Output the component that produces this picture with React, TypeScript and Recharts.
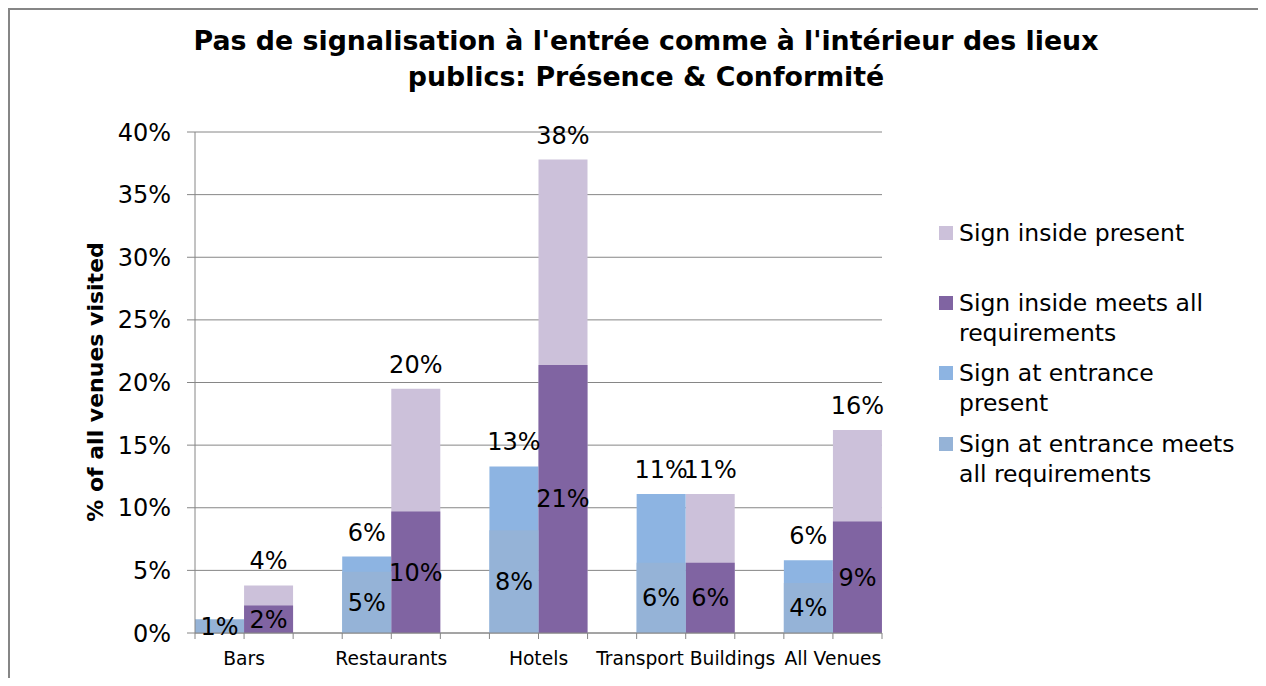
import React from "react"
import { BarChart, Bar, XAxis, YAxis, CartesianGrid, LabelList, Legend } from "recharts"

const categories = ["Bars", "Restaurants", "Hotels", "Transport Buildings", "All Venues"]
const insidePresent = [3.8, 19.5, 37.8, 11.1, 16.2]
const insideMeets = [2.2, 9.7, 21.4, 5.6, 8.9]
const entrancePresent = [null, 6.1, 13.3, 11.1, 5.8]
const entranceMeets = [1.1, 4.9, 8.2, 5.6, 4.0]
const yTicks = [0, 5, 10, 15, 20, 25, 30, 35, 40]

const legendItems = [
  { lines: ["Sign inside present"], color: "#CCC1DA", gap: 40 },
  { lines: ["Sign inside meets all", "requirements"], color: "#8064A2", gap: 10 },
  { lines: ["Sign at entrance", "present"], color: "#8DB4E2", gap: 11 },
  { lines: ["Sign at entrance meets", "all requirements"], color: "#95B3D7", gap: 0 },
]

// one slot per bar, with an empty slot between venues
const rows: any[] = []
categories.forEach((cat, i) => {
  rows.push({ slot: cat + "-e", label: cat, entrancePresent: entrancePresent[i], entranceMeets: entranceMeets[i] })
  rows.push({ slot: cat + "-i", insidePresent: insidePresent[i], insideMeets: insideMeets[i] })
  if (i < categories.length - 1) rows.push({ slot: "gap" + i })
})

const FONT = "'DejaVu Sans', 'Liberation Sans', Arial, sans-serif"
const GREY = "#868686"

const pct = (v: number) => Math.round(v) + "%"

const TopLabel = (props: any) => {
  const { x, y, width, value } = props
  if (value == null) return null
  return (
    <text x={x + width / 2} y={y - 16} textAnchor="middle" fontSize={24} fill="#000">
      {pct(value)}
    </text>
  )
}

const CenterLabel = (props: any) => {
  const { x, y, width, height, value } = props
  if (value == null) return null
  return (
    <text x={x + width / 2} y={y + height / 2 + 8.5} textAnchor="middle" fontSize={24} fill="#000">
      {pct(value)}
    </text>
  )
}

const SlotTick = (props: any) => {
  const { x, y, payload, index } = props
  const half = payload.offset || 24.5
  const row = rows[index]
  return (
    <g>
      <line x1={x - half} y1={y} x2={x - half} y2={y + 6} stroke={GREY} />
      {index === rows.length - 1 && <line x1={x + half} y1={y} x2={x + half} y2={y + 6} stroke={GREY} />}
      {row && row.label && (
        <text x={x + half} y={y + 32} textAnchor="middle" fontSize={18.7} fill="#000">
          {row.label}
        </text>
      )}
    </g>
  )
}

const LegendBox = () => (
  <div style={{ fontFamily: FONT, fontSize: 23.5, lineHeight: "30px", color: "#000" }}>
    {legendItems.map((it) => (
      <div key={it.lines[0]} style={{ display: "flex", marginBottom: it.gap }}>
        <div style={{ width: 14, height: 14, background: it.color, marginTop: 8, marginRight: 6, flexShrink: 0 }} />
        <div>
          {it.lines.map((l) => (
            <div key={l} style={{ whiteSpace: "nowrap" }}>{l}</div>
          ))}
        </div>
      </div>
    ))}
  </div>
)

export default function App() {
  return (
    <div style={{ position: "relative", width: 1258, height: 670, overflow: "hidden", fontFamily: FONT }}>
      <style>{"html, body { overflow: hidden; }"}</style>
      {/* chart frame, its right and bottom edges fall outside the picture */}
      <div
        style={{
          position: "absolute",
          left: 0,
          top: 0,
          width: 1400,
          height: 800,
          borderLeft: "2px solid " + GREY,
          borderTop: "2px solid " + GREY,
        }}
      />
      <div
        style={{
          position: "absolute",
          left: 138,
          width: 1000,
          top: 15,
          textAlign: "center",
          fontWeight: "bold",
          fontSize: 26.8,
          lineHeight: "36px",
          whiteSpace: "pre",
          zIndex: 2,
        }}
      >
        {"Pas de signalisation à l'entrée comme à l'intérieur des lieux\npublics: Présence & Conformité"}
      </div>
      <div style={{ position: "absolute", left: 2, top: 2 }}>
        <BarChart
          width={1250}
          height={666}
          data={rows}
          margin={{ top: 122, right: 378, bottom: 3, left: 105 }}
          barCategoryGap={0}
          barGap={0}
        >
          <CartesianGrid vertical={false} stroke={GREY} xAxisId="a" />
          <XAxis
            xAxisId="a"
            dataKey="slot"
            type="category"
            height={40}
            tickLine={false}
            tickSize={0}
            tickMargin={0}
            interval={0}
            stroke={GREY}
            tick={<SlotTick />}
          />
          <XAxis xAxisId="b" dataKey="slot" type="category" hide />
          <YAxis
            width={80}
            domain={[0, 40]}
            ticks={yTicks}
            tickFormatter={(v) => v + "%"}
            tickSize={8}
            tickMargin={16}
            stroke={GREY}
            tick={{ fill: "#000", fontSize: 24 }}
            label={{
              content: () => (
                <text
                  x={85}
                  y={372}
                  transform="rotate(-90 85 372)"
                  textAnchor="middle"
                  dominantBaseline="central"
                  fontSize={22}
                  fontWeight="bold"
                  fill="#000"
                >
                  % of all venues visited
                </text>
              ),
            }}
          />
          <Legend
            layout="vertical"
            align="center"
            verticalAlign="middle"
            wrapperStyle={{ left: 929, top: 208, width: 320 }}
            content={<LegendBox />}
          />
          <Bar dataKey="insidePresent" name="Sign inside present" xAxisId="a" stackId="p" fill="#CCC1DA" isAnimationActive={false}>
            <LabelList dataKey="insidePresent" content={<TopLabel />} />
          </Bar>
          <Bar dataKey="entrancePresent" name="Sign at entrance present" xAxisId="a" stackId="p" fill="#8DB4E2" isAnimationActive={false}>
            <LabelList dataKey="entrancePresent" content={<TopLabel />} />
          </Bar>
          <Bar dataKey="insideMeets" name="Sign inside meets all requirements" xAxisId="b" stackId="m" fill="#8064A2" isAnimationActive={false}>
            <LabelList dataKey="insideMeets" content={<CenterLabel />} />
          </Bar>
          <Bar dataKey="entranceMeets" name="Sign at entrance meets all requirements" xAxisId="b" stackId="m" fill="#95B3D7" isAnimationActive={false}>
            <LabelList dataKey="entranceMeets" content={<CenterLabel />} />
          </Bar>
        </BarChart>
      </div>
    </div>
  )
}
